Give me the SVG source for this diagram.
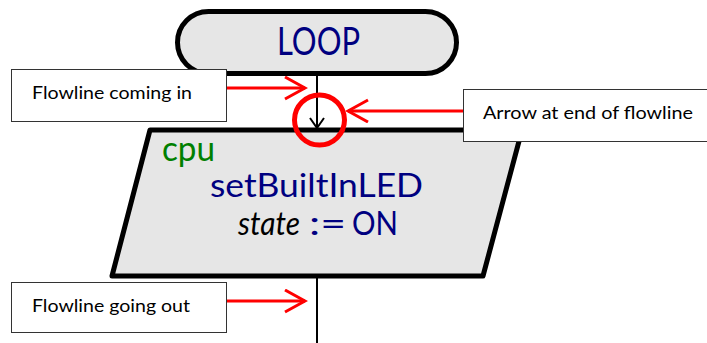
<svg xmlns="http://www.w3.org/2000/svg" width="707" height="343" viewBox="0 0 707 343">
<style>
.shape{fill:#e6e6e6;stroke:#000;stroke-width:5;stroke-linejoin:round}
.flow{fill:none;stroke:#000;stroke-width:2}
.red{fill:none;stroke:#ff0000;stroke-width:3}
.lbl{fill:#fff;stroke:#333;stroke-width:1}
.lt{font-family:Lato,"Liberation Sans",sans-serif;font-size:18px;fill:#000}
.big{font-family:Lato,"Liberation Sans",sans-serif;font-size:33px;fill:#000080}
</style>
<defs>
<marker id="redhead" markerUnits="userSpaceOnUse" markerWidth="24" markerHeight="26" refX="21" refY="12" orient="auto">
<path d="M1,1 L21,12 L1,23" fill="none" stroke="#ff0000" stroke-width="3"/>
</marker>
<marker id="blackhead" markerUnits="userSpaceOnUse" markerWidth="14" markerHeight="18" refX="11" refY="8" orient="auto">
<path d="M1,1 L11,8 L1,15" fill="none" stroke="#000" stroke-width="2"/>
</marker>
</defs>
<g id="connectors">
<line class="flow" x1="317" y1="74" x2="317" y2="128" marker-end="url(#blackhead)"/>
<line class="flow" x1="317" y1="276" x2="317" y2="343"/>
</g>
<g id="loop">
<rect class="shape" x="177.5" y="11.5" width="279" height="62" rx="31" ry="31"/>
<text class="big" x="277" y="55" style="font-size:39px" textLength="83" lengthAdjust="spacingAndGlyphs">LOOP</text>
</g>
<g id="process">
<polygon class="shape" points="150,130 522,130 483,276 112,276"/>
<text class="big" x="162" y="161" style="fill:#008000;font-size:35px" textLength="53" lengthAdjust="spacingAndGlyphs">cpu</text>
<text class="big" x="210" y="197" textLength="213" lengthAdjust="spacingAndGlyphs">setBuiltInLED</text>
<text class="big" x="238" y="235" font-style="italic" style="fill:#000" textLength="62" lengthAdjust="spacingAndGlyphs">state</text>
<text class="big" x="309" y="235" textLength="37" lengthAdjust="spacingAndGlyphs">:=</text>
<text class="big" x="352" y="235" textLength="46" lengthAdjust="spacingAndGlyphs">ON</text>
</g>
<g id="callout-circle">
<circle cx="319.5" cy="120" r="25" class="red" style="stroke-width:5"/>
</g>
<g id="callout-arrows">
<line class="red" x1="227" y1="88" x2="305" y2="88" marker-end="url(#redhead)"/>
<line class="red" x1="463" y1="111" x2="348" y2="111" marker-end="url(#redhead)"/>
<line class="red" x1="227" y1="301" x2="305" y2="301" marker-end="url(#redhead)"/>
</g>
<g id="label-in">
<rect class="lbl" x="11.5" y="69.5" width="215" height="52"/>
<text class="lt" x="32" y="99" textLength="160" lengthAdjust="spacingAndGlyphs">Flowline coming in</text>
</g>
<g id="label-end">
<rect class="lbl" x="463.5" y="89.5" width="250" height="52"/>
<text class="lt" x="483" y="119" textLength="210" lengthAdjust="spacingAndGlyphs">Arrow at end of flowline</text>
</g>
<g id="label-out">
<rect class="lbl" x="11.5" y="282.5" width="215" height="50"/>
<text class="lt" x="32" y="312" textLength="158" lengthAdjust="spacingAndGlyphs">Flowline going out</text>
</g>
</svg>
